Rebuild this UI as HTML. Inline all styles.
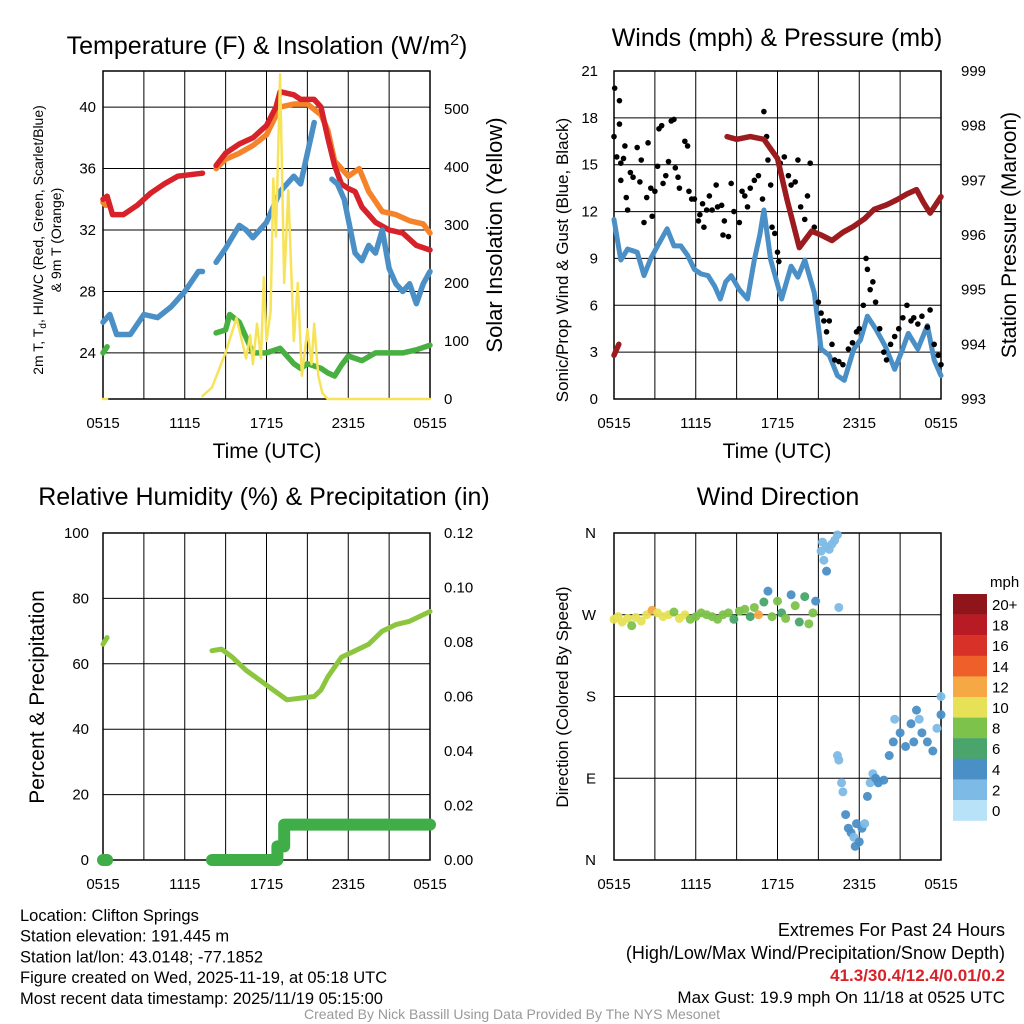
<!DOCTYPE html>
<html><head><meta charset="utf-8"><style>
body{margin:0;background:#fff;width:1024px;height:1024px;overflow:hidden;font-family:"Liberation Sans",sans-serif}
svg{display:block}
text{font-family:"Liberation Sans",sans-serif;fill:#000}
</style></head><body>
<svg id="s" width="1024" height="1024" viewBox="0 0 1024 1024"></svg>
<script>
// ---------- data ----------
const tRedH=[0,0.3,0.7,1.5,2.5,3.5,4.5,5.5,7.3,null,8.3,9,10,11,12,12.7,13,14,14.5,15.5,16,16.5,17,17.5,18,18.5,19,20,21,22,23,24];
const tRedV=[34,34.2,33,33,33.6,34.4,35,35.5,35.7,null,36.2,37,37.6,38,38.8,40,41,40.8,40.5,40.5,40,38,36.2,35,34.7,34.5,33.5,32.5,32,31.8,31,30.7];
const tOrgH=[0,0.2,null,8.3,9,10,11,12,13,14,15,16,16.5,17,18,18.8,19.5,20.5,21.5,22.5,23.5,24];
const tOrgV=[33.8,33.6,null,36,36.6,37,37.5,38.2,40,40.2,40.2,39.5,38.5,36.5,35.5,36,34.5,33.2,33,32.6,32.4,31.8];
const tBluH=[0,0.5,1,2,3,4,5,6,7,7.3,null,8.3,9,10,10.5,11,12,13,13.5,14,14.5,15,15.5,null,16.8,17.2,17.7,18.5,19,19.5,20,20.5,21,21.5,22,22.5,23,23.5,24];
const tBluV=[26,26.5,25.2,25.2,26.5,26.3,27,28,29.3,29.3,null,29.9,30.8,32.3,32,31.5,32.5,34.5,35,35.5,35,37,39,null,35.3,35,34,30.5,30,31,30.5,32,29.5,28.5,28,28.5,27.2,28.5,29.3];
const tGrnH=[0,0.3,null,8.3,9,9.3,10,10.5,11,12,13,14,14.5,15,16,16.5,17,17.5,18,19,20,21,22,23,24];
const tGrnV=[24,24.4,null,25.3,25.5,26.5,26,25,24,24,24.3,23.3,23,23.3,23,22.7,22.5,23.2,23.8,23.5,24,24,24,24.2,24.5];
const solH=[0,0.3,null,7.3,8,8.5,9,9.4,9.8,10.2,10.5,10.8,11,11.3,11.6,11.8,12,12.3,12.5,12.7,13,13.3,13.6,14,14.3,14.6,15,15.3,15.5,15.8,16.1,16.5,24];
const solV=[0,0,null,5,20,50,80,110,140,100,70,110,60,130,70,210,100,150,380,280,560,200,360,100,200,40,120,60,130,40,10,0,0];
const windH=[0,0.5,1,1.7,2.2,2.7,3.2,3.9,4.4,4.9,5.4,5.9,6.4,6.9,7.4,7.8,8.2,8.6,9.2,9.8,10.3,10.7,11,11.5,12.3,13,13.5,14,14.7,15.2,15.8,16.4,16.9,17.6,18.1,18.6,19.2,19.9,20.6,21.1,21.6,22.3,23,23.5,24];
const windV=[11.5,8.9,9.6,9.4,7.9,9.0,9.8,10.9,9.8,9.8,9.2,8.3,8.0,7.9,7.2,6.4,7.5,7.9,7.0,6.4,8.9,10.5,12.1,8.9,6.4,8.5,7.8,8.9,6.8,3.2,2.8,1.5,1.2,3.2,3.8,5.3,4.5,3.4,1.9,3.0,4.2,3.2,4.7,2.5,1.5];
const gustH=[0,0.05,0.2,0.4,0.4,0.5,0.5,0.7,0.8,0.9,1.0,1.2,1.4,1.7,1.9,2.0,2.2,2.4,2.5,2.7,2.8,3.0,3.2,3.3,3.5,3.6,3.8,4.0,4.2,4.4,4.5,4.7,4.8,5.2,5.4,5.5,5.7,5.9,6.2,6.3,6.5,6.6,6.8,7.0,7.2,7.5,7.6,7.9,8.0,8.1,8.4,8.6,8.8,9.2,9.4,9.6,9.8,10.0,10.3,10.6,10.9,11.0,11.2,11.3,11.5,11.6,11.8,12.0,12.1,12.2,12.5,12.8,13.0,13.3,13.5,13.7,14.0,14.2,14.4,14.7,15.0,15.2,15.4,15.6,15.8,16.0,16.2,16.5,16.8,17.2,17.5,17.8,18.0,18.3,18.5,18.6,18.8,19.0,19.2,19.5,19.8,20.0,20.3,20.6,20.9,21.2,21.5,21.8,22.0,22.3,22.6,23.0,23.2,23.5,23.8,24.0];
const gustV=[16.8,19.9,15.5,19.1,17.6,15.1,14.0,15.4,16.2,12.9,12.1,14.5,14.2,16.1,13.9,15.3,11.3,12.9,16.4,13.5,11.7,13.3,14.9,17.3,17.5,13.8,14.3,15.2,17.8,17.9,14.8,14.2,13.5,16.5,16.2,13.3,12.8,12.8,11.4,11.8,12.5,11.0,12.1,13.0,12.1,13.7,12.3,12.4,10.5,11.4,10.4,13.8,12.0,11.3,13.3,13.0,12.3,13.5,14.0,14.3,12.8,18.4,16.8,15.3,13.7,11.0,10.6,9.4,8.8,15.1,15.5,14.3,13.7,13.9,15.3,12.3,11.5,13.0,15.1,11.0,6.2,5.5,5.0,4.3,5.0,3.5,2.5,2.4,2.2,3.2,3.6,4.3,4.5,6.0,9.0,8.3,7.0,7.5,6.2,4.5,3.0,2.5,3.5,4.0,4.5,5.2,6.0,5.0,5.2,4.8,5.3,4.6,5.7,3.5,2.8,2.2];
const presH=[0,0.35,null,8.3,9,10,11,12,12.7,13.6,14.5,15.2,16,16.8,17.6,18.4,19.1,20,20.8,21.5,22.2,22.7,23.2,24];
const presV=[993.8,994.0,null,997.8,997.75,997.8,997.75,997.4,996.65,995.77,996.07,996.0,995.9,996.05,996.16,996.3,996.47,996.55,996.65,996.75,996.83,996.6,996.4,996.7];
const rhH=[0,0.3,null,8,8.7,9.5,10.5,11.5,12.5,13.5,14.5,15.5,16,16.5,17.5,18.5,19.5,20.5,21.5,22.5,23.5,24];
const rhV=[66,68,null,64,64.5,62,58,55,52,49,49.5,50,52,56,62,64,66,70,72,73,75,76];
const prH=[0,0.3,null,8,12.8,12.8,13.3,13.3,24];
const prV=[0,0,null,0,0,0.005,0.005,0.013,0.013];
const dirH=[0,0.3,0.6,1,1.3,1.6,2,2.4,2.8,3.2,3.6,4,4.4,4.8,5.2,5.6,6,6.4,6.8,7.2,7.6,8,8.4,8.8,9.2,9.6,10,10.3,10.6,11,11.3,11.6,12,12.3,12.6,13,13.3,13.6,14,14.3,14.6,14.8,15.2,15.3,15.4,15.6,15.6,15.8,16.0,16.2,16.4,16.5,16.4,16.5,16.7,16.8,17.0,17.2,17.4,17.6,17.7,17.8,18.0,18.2,18.4,18.6,18.8,19.0,19.2,19.4,19.8,20.2,20.5,20.6,21.0,21.4,21.8,22.0,22.2,22.4,22.6,23.0,23.4,23.7,24,24];
const dirV=[265,268,262,266,258,267,263,270,275,272,268,270,273,266,270,265,268,272,270,268,265,270,272,265,274,276,268,278,270,284,296,268,285,272,266,292,280,262,290,260,272,285,340,350,330,345,318,342,348,352,358,278,115,110,85,75,50,35,30,25,15,40,20,35,40,70,85,95,90,85,88,115,130,155,140,125,150,130,165,155,140,130,120,145,180,160];
const dirS=[10,10,9,10,8,10,9,10,12,10,10,9,8,10,9,8,8,8,7,8,8,8,8,6,8,8,6,8,11,6,4,8,8,6,7,4,8,6,6,8,7,4,2,2,2,2,3,2,2,2,2,1,1,2,2,2,3,3,3,2,4,4,3,4,2,3,2,2,4,4,4,3,4,2,4,3,4,4,4,2,4,3,4,2,1,4];
const cbLabels=["20+","18","16","14","12","10","8","6","4","2","0"];
const cbColors=["#8f151a","#b81b24","#d83228","#ef5f2a","#f5a844","#e6e156","#7dc24a","#49a56c","#4a8fc6","#7dbbe6","#b8e2f8"];
const xTicks=["0515","1115","1715","2315","0515"];

// ---------- helpers ----------
const S=document.getElementById('s');const NS="http://www.w3.org/2000/svg";
function el(t,a,p){const e=document.createElementNS(NS,t);for(const k in a)e.setAttribute(k,a[k]);(p||S).appendChild(e);return e;}
function txt(x,y,s,sz,opt){opt=opt||{};const e=el('text',{x:x,y:y,'font-size':sz,'text-anchor':opt.a||'start'});if(opt.rot)e.setAttribute('transform','rotate(-90 '+x+' '+y+')');if(opt.fill)e.setAttribute('style','fill:'+opt.fill);if(opt.bold)e.setAttribute('font-weight','bold');e.innerHTML=s;return e;}
function panel(L,T,R,B,name){
  const g=el('g',{});
  for(let i=0;i<=8;i++){const x=L+(R-L)*i/8;el('line',{x1:x,y1:T,x2:x,y2:B,stroke:'#000','stroke-width':1},g);}
  el('rect',{x:L,y:T,width:R-L,height:B-T,fill:'none',stroke:'#000','stroke-width':1.5},g);
  xTicks.forEach((s,i)=>{const x=L+(R-L)*i/4;const t=txt(x,B+29,s,15,{a:'middle'});});
  return g;
}
function hgrid(g,L,R,y){el('line',{x1:L,y1:y,x2:R,y2:y,stroke:'#000','stroke-width':1},g);}
function path(H,V,xf,yf,col,w,name){let d='',m=true;for(let i=0;i<H.length;i++){if(H[i]===null){m=true;continue;}d+=(m?'M':'L')+xf(H[i]).toFixed(1)+' '+yf(V[i]).toFixed(1)+' ';m=false;}
  const p=el('path',{d:d,fill:'none',stroke:col,'stroke-width':w,'stroke-linejoin':'round','stroke-linecap':'round'});
  return p;}

// ---------- Panel 1: temperature ----------
{const L=103,R=430,T=71,B=399;const g=panel(L,T,R,B,'temperature-panel');
 const x=h=>L+(R-L)*h/24, y=v=>B-(v-21)*(B-T)/(42.35-21), ys=v=>B-v*0.58;
 [24,28,32,36,40].forEach(v=>{hgrid(g,L,R,y(v));txt(L-7,y(v)+5,v,15,{a:'end'});});
 [0,100,200,300,400,500].forEach(v=>{txt(R+14,ys(v)+5,v,15);});
 path(tOrgH,tOrgV,x,y,'#f5832a',5.5,'nine-m-temp-line');
 path(tRedH,tRedV,x,y,'#d7222a',5.5,'temperature-line');
 path(tBluH,tBluV,x,y,'#4a8fc6',5.5,'wind-chill-line');
 path(tGrnH,tGrnV,x,y,'#47b040',5.5,'dewpoint-line');
 path(solH,solV,x,ys,'#f7e35a',2.5,'solar-insolation-line');
 txt(267,54,'Temperature (F) &amp; Insolation (W/m<tspan dy="-9" font-size="16">2</tspan><tspan dy="9">)</tspan>',25,{a:'middle'});
 txt(267,458,'Time (UTC)',21,{a:'middle'});
 txt(43,240,'2m T, T<tspan font-size="10" dy="3">d</tspan><tspan dy="-3">, HI/WC (Red, Green, Scarlet/Blue)</tspan>',14,{a:'middle',rot:1});
 txt(61,240,'&amp; 9m T (Orange)',14,{a:'middle',rot:1});
 txt(502,235,'Solar Insolation (Yellow)',22,{a:'middle',rot:1});}

// ---------- Panel 2: winds ----------
{const L=614,R=941,T=71,B=399;const g=panel(L,T,R,B,'winds-panel');
 const x=h=>L+(R-L)*h/24, y=v=>B-v*(B-T)/21, yp=v=>B-(v-993)*(B-T)/6;
 [0,3,6,9,12,15,18,21].forEach(v=>{hgrid(g,L,R,y(v));txt(L-16,y(v)+5,v,15,{a:'end'});});
 [993,994,995,996,997,998,999].forEach(v=>{txt(R+20,yp(v)+5,v,15);});
 path(windH,windV,x,y,'#4a8fc6',5,'sustained-wind-line');
 gustH.forEach((h,i)=>{const c=el('circle',{cx:x(h),cy:y(gustV[i]),r:2.8,fill:'#000'});});
 path(presH,presV,x,yp,'#9b1b1e',5.5,'pressure-line');
 txt(777,46,'Winds (mph) &amp; Pressure (mb)',25,{a:'middle'});
 txt(777,458,'Time (UTC)',21,{a:'middle'});
 txt(568,260,'Sonic/Prop Wind &amp; Gust (Blue, Black)',17,{a:'middle',rot:1});
 txt(1016,235,'Station Pressure (Maroon)',21,{a:'middle',rot:1});}

// ---------- Panel 3: RH & precip ----------
{const L=103,R=430,T=533,B=860;const g=panel(L,T,R,B,'humidity-panel');
 const x=h=>L+(R-L)*h/24, y=v=>B-v*(B-T)/100, yq=v=>B-v*(B-T)/0.12;
 [0,20,40,60,80,100].forEach(v=>{hgrid(g,L,R,y(v));txt(L-14,y(v)+5,v,15,{a:'end'});});
 ['0.00','0.02','0.04','0.06','0.08','0.10','0.12'].forEach((s,i)=>{txt(R+14,yq(i*0.02)+5,s,15);});
 path(rhH,rhV,x,y,'#8cc63f',5,'relative-humidity-line');
 path(prH,prV,x,yq,'#3fae49',12,'precipitation-line');
 txt(264,505,'Relative Humidity (%) &amp; Precipitation (in)',25,{a:'middle'});
 txt(44,697,'Percent &amp; Precipitation',21,{a:'middle',rot:1});}

// ---------- Panel 4: wind direction ----------
{const L=614,R=941,T=533,B=860;const g=panel(L,T,R,B,'wind-direction-panel');
 const x=h=>L+(R-L)*h/24, y=v=>B-v*(B-T)/360;
 ['N','E','S','W','N'].forEach((s,i)=>{hgrid(g,L,R,y(i*90));txt(L-18,y(i*90)+5,s,15,{a:'end'});});
 const col=s=>cbColors[10-Math.min(10,Math.round(s/2))];
 dirH.forEach((h,i)=>{const c=el('circle',{cx:x(h),cy:y(dirV[i]),r:4.5,fill:col(dirS[i]),opacity:0.95});});
 txt(778,505,'Wind Direction',25,{a:'middle'});
 txt(568,697,'Direction (Colored By Speed)',17,{a:'middle',rot:1});
 const cb=el('g',{});
 txt(990,587,'mph',15);
 cbLabels.forEach((s,i)=>{el('rect',{x:953,y:594+i*20.6,width:34,height:20.8,fill:cbColors[i]},cb);txt(992,610+i*20.6,s,15);});}

// ---------- footer ----------
const info=['Location: Clifton Springs','Station elevation: 191.445 m','Station lat/lon: 43.0148; -77.1852','Figure created on Wed, 2025-11-19, at 05:18 UTC','Most recent data timestamp: 2025/11/19 05:15:00'];
info.forEach((s,i)=>{const t=txt(20,921+i*20.7,s,16.5);});
txt(1005,936,'Extremes For Past 24 Hours',18,{a:'end'});
txt(1005,959,'(High/Low/Max Wind/Precipitation/Snow Depth)',18,{a:'end'});
txt(1005,981,'41.3/30.4/12.4/0.01/0.2',17,{a:'end',fill:'#d7222a',bold:1});
txt(1005,1003,'Max Gust: 19.9 mph On 11/18 at 0525 UTC',17,{a:'end'});
txt(512,1019,'Created By Nick Bassill Using Data Provided By The NYS Mesonet',14,{a:'middle',fill:'#999'});
</script>
</body></html>
